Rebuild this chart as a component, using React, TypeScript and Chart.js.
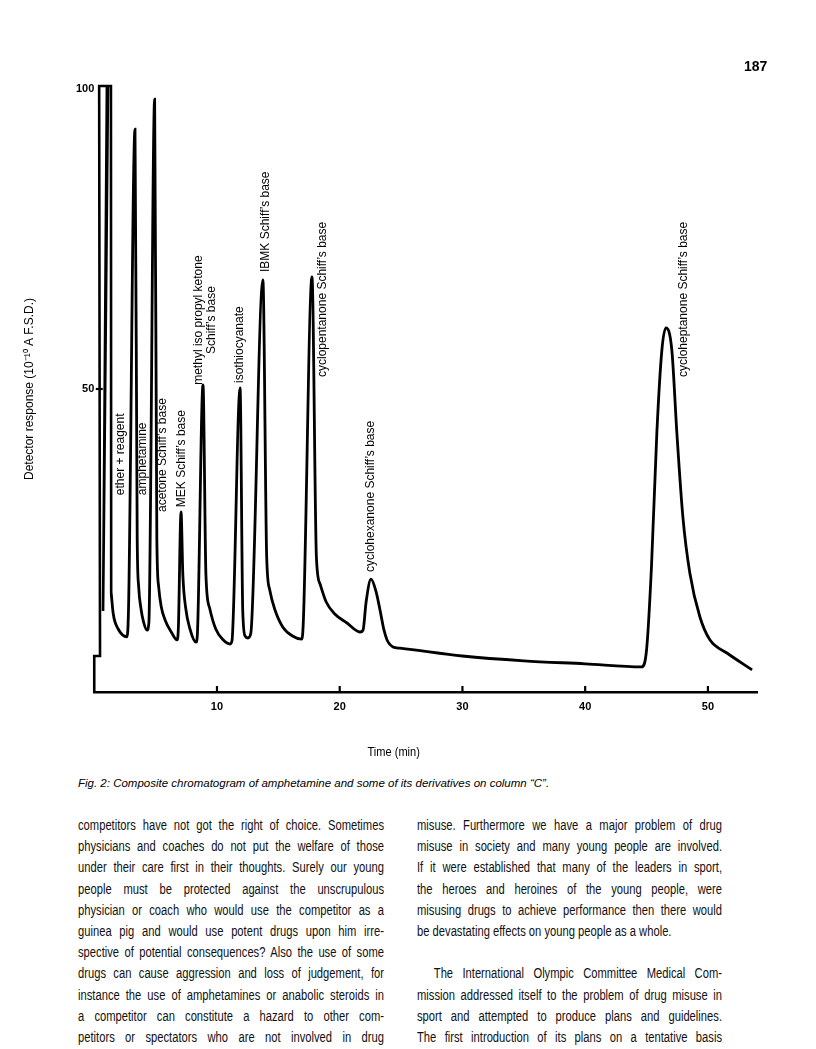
import React, { useEffect, useRef } from 'react';
import { Chart, registerables } from 'chart.js';

Chart.register(...registerables);

// ---- data (time in min, detector response) ----
// off-scale solvent / reagent front (pen pegged at full scale)
const solventTime = [0, 0, 0.47, 0.4, 1.03, 0.72, 1.12, 1.36, 1.38];
const solventResp = [-0.5, 5.5, 5.5, 100.5, 100.5, 13, 100.5, 100.5, 16];

const traceTime = [
  1.38, 1.55, 1.95, 2.67,
  2.8, 3.32, 3.5, 3.62, 3.8, 4.0, 4.3,
  4.45, 4.92, 5.1, 5.25, 5.45, 5.77, 6.33, 6.74,
  6.85, 7.07, 7.22, 7.45, 7.8, 8.29,
  8.4, 8.86, 9.1, 9.4, 9.9, 10.5, 11.06,
  11.22, 11.88, 12.1, 12.3, 12.52, 12.75,
  13.74, 14.05, 14.3, 14.72, 15.37, 16.19, 16.92,
  17.05, 17.74, 18.1, 18.4, 18.9, 19.6, 20.59, 21.65,
  21.9, 22.15, 22.55, 22.95, 23.28, 23.61, 23.85, 24.34, 24.91,
  30, 35, 40, 44.6,
  45.0, 45.4, 45.84, 46.25, 46.58, 47.06, 47.47, 47.96, 48.53, 49.35, 50.16, 51.55, 53.6,
];
const traceResp = [
  16, 12.5, 10, 8.7,
  14, 93.3, 25, 17, 13.5, 11.3, 9.8,
  11, 98.3, 25, 17, 13.8, 11.5, 9.3, 8.2,
  10, 29.5, 19, 13.5, 10, 7.8,
  9, 50.7, 19, 13.5, 10, 8.2, 7.5,
  8, 50.2, 13, 8.8, 8.5, 9.2,
  68.2, 22, 16.5, 13.2, 10.3, 8.8, 8.3,
  12, 68.7, 22, 17.5, 14.5, 12.5, 11.0, 9.5,
  9.8, 14.5, 18.3, 16.3, 13.2, 9.8, 8.2, 7.0, 6.8,
  5.5, 4.7, 4.2, 3.7,
  6.5, 20.3, 42.7, 56.5, 60.2, 56.5, 42.7, 28.7, 19.3, 12.0, 8.2, 6.0, 3.2,
];

const xTickValues = [10, 20, 30, 40, 50];
const yTickValues = [50, 100];

const peakNames = [
  ['ether + reagent'],
  ['amphetamine'],
  ["acetone Schiff\u2019s base"],
  ["MEK Schiff\u2019s base"],
  ['methyl iso propyl ketone', "Schiff\u2019s base"],
  ['isothiocyanate'],
  ["IBMK Schiff\u2019s base"],
  ["cyclopentanone Schiff\u2019s base"],
  ["cyclohexanone Schiff\u2019s base"],
  ["cycloheptanone Schiff\u2019s base"],
];
// label anchor (time, response at the foot of the rotated text)
const peakLabelTime = [2.16, 3.92, 5.58, 7.15, 9.06, 11.87, 14.0, 18.63, 22.52, 48.05];
const peakLabelResp = [32.3, 32.3, 29.5, 30.3, 50.7, 51.0, 69.5, 52.0, 19.5, 52.0];

const xTitle = 'Time (min)';
const yTitle = 'Detector response (10\u207B\u00B9\u2070 A F.S.D.)';

const leftColumn = [
  'competitors have not got the right of choice. Sometimes',
  'physicians and coaches do not put the welfare of those',
  'under their care first in their thoughts. Surely our young',
  'people must be protected against the unscrupulous',
  'physician or coach who would use the competitor as a',
  'guinea pig and would use potent drugs upon him irre-',
  'spective of potential consequences? Also the use of some',
  'drugs can cause aggression and loss of judgement, for',
  'instance the use of amphetamines or anabolic steroids in',
  'a competitor can constitute a hazard to other com-',
  'petitors or spectators who are not involved in drug',
];
const rightColumn = [
  'misuse. Furthermore we have a major problem of drug',
  'misuse in society and many young people are involved.',
  'If it were established that many of the leaders in sport,',
  'the heroes and heroines of the young people, were',
  'misusing drugs to achieve performance then there would',
  'be devastating effects on young people as a whole.',
  '',
  'The International Olympic Committee Medical Com-',
  'mission addressed itself to the problem of drug misuse in',
  'sport and attempted to produce plans and guidelines.',
  'The first introduction of its plans on a tentative basis',
];
const rightColumnPlain = [5];
const rightColumnIndent = [7];

const SANS = '"Liberation Sans", Arial, Helvetica, sans-serif';

const annotatePlugin = {
  id: 'annotate',
  afterDatasetsDraw(chart: any) {
    const { ctx, scales } = chart;
    const xs = scales.x;
    const ys = scales.y;
    ctx.save();
    ctx.strokeStyle = '#000';
    ctx.fillStyle = '#000';
    // x tick marks (upwards)
    ctx.lineWidth = 2.2;
    const axisY = ys.getPixelForValue(-0.5);
    xTickValues.forEach((v) => {
      const px = xs.getPixelForValue(v);
      ctx.beginPath();
      ctx.moveTo(px, axisY);
      ctx.lineTo(px, axisY - 6);
      ctx.stroke();
    });
    // y tick mark at 50
    const yAxisX = xs.getPixelForValue(0.45);
    ctx.beginPath();
    const py = ys.getPixelForValue(50);
    ctx.moveTo(yAxisX - 4, py);
    ctx.lineTo(yAxisX + 3, py);
    ctx.stroke();

    // peak labels
    ctx.font = `12px ${SANS}`;
    ctx.textBaseline = 'middle';
    ctx.textAlign = 'center';
    peakNames.forEach((lines, i) => {
      const px = xs.getPixelForValue(peakLabelTime[i]);
      const pyy = ys.getPixelForValue(peakLabelResp[i]);
      const w = Math.max(...lines.map((l) => ctx.measureText(l).width));
      ctx.save();
      ctx.translate(px, pyy);
      ctx.rotate(-Math.PI / 2);
      const lh = 13;
      lines.forEach((l, j) => {
        const off = (j - (lines.length - 1) / 2) * lh;
        ctx.fillText(l, w / 2, off);
      });
      ctx.restore();
    });

    // x title
    ctx.save();
    ctx.translate(xs.getPixelForValue(24.4), axisY + 60);
    ctx.scale(0.85, 1);
    ctx.font = `13px ${SANS}`;
    ctx.textAlign = 'center';
    ctx.fillText(xTitle, 0, 0);
    ctx.restore();
    ctx.restore();
  },
};

export default function App() {
  const ref = useRef<HTMLCanvasElement | null>(null);
  useEffect(() => {
    if (!ref.current) return;
    const chart = new Chart(ref.current, {
      type: 'line',
      data: {
        datasets: [
          {
            data: solventTime.map((t, i) => ({ x: t, y: solventResp[i] })),
            borderColor: '#000',
            borderWidth: 2.6,
            pointRadius: 0,
            tension: 0,
            fill: false,
            clip: false as any,
          },
          {
            data: traceTime.map((t, i) => ({ x: t, y: traceResp[i] })),
            borderColor: '#000',
            borderWidth: 2.8,
            pointRadius: 0,
            cubicInterpolationMode: 'monotone',
            fill: false,
            clip: false as any,
          },
        ],
      },
      options: {
        animation: false,
        responsive: false,
        maintainAspectRatio: false,
        layout: { padding: { left: 0, right: 59, top: 86, bottom: 0 } },
        plugins: { legend: { display: false }, tooltip: { enabled: false } },
        scales: {
          x: {
            type: 'linear',
            min: 0,
            max: 54,
            grid: { display: false, drawTicks: false },
            border: { display: true, color: '#000', width: 2.5 },
            afterBuildTicks: (s: any) => {
              s.ticks = xTickValues.map((v) => ({ value: v }));
            },
            afterFit: (s: any) => {
              s.height = 78;
            },
            ticks: {
              color: '#000',
              padding: 8,
              maxRotation: 0,
              autoSkip: false,
              font: { family: SANS, size: 11, weight: 'bold' },
            },
          },
          y: {
            type: 'linear',
            min: -0.5,
            max: 100.5,
            grid: { display: false, drawTicks: false },
            border: { display: false },
            afterBuildTicks: (s: any) => {
              s.ticks = yTickValues.map((v) => ({ value: v }));
            },
            afterFit: (s: any) => {
              s.width = 94.25;
            },
            ticks: {
              color: '#000',
              padding: 0,
              font: { family: SANS, size: 11, weight: 'bold' },
            },
            title: {
              display: true,
              text: yTitle,
              color: '#000',
              padding: { top: 22, bottom: 0 },
              font: { family: SANS, size: 12 },
            },
          },
        },
      },
      plugins: [annotatePlugin],
    } as any);
    return () => chart.destroy();
  }, []);

  const lineH = 21.2;
  const squeeze = 0.8;
  const colStyle = (left: number, width: number): React.CSSProperties => ({
    position: 'absolute',
    left,
    top: 815,
    width: width / squeeze,
    transform: `scaleX(${squeeze})`,
    transformOrigin: 'left top',
    fontFamily: SANS,
    fontSize: 14,
    lineHeight: `${lineH}px`,
    color: '#111',
  });

  return (
    <div style={{ position: 'absolute', left: 0, top: 0, width: 816, height: 1049, background: '#fff', overflow: 'hidden' }}>
      <canvas ref={ref} width={816} height={770} style={{ position: 'absolute', left: 0, top: 0, width: 816, height: 770 }} />
      <div style={{ position: 'absolute', left: 744, top: 58, fontFamily: SANS, fontWeight: 'bold', fontSize: 14, color: '#000' }}>187</div>
      <div style={{ position: 'absolute', left: 78, top: 777, fontFamily: SANS, fontStyle: 'italic', fontSize: 11.5, color: '#000', whiteSpace: 'nowrap' }}>
        Fig. 2: Composite chromatogram of amphetamine and some of its derivatives on column {'\u201CC\u201D'}.
      </div>
      <div style={colStyle(78, 306)}>
        {leftColumn.map((l, i) => (
          <div key={i} style={{ height: lineH, textAlign: 'justify', textAlignLast: 'justify' } as any}>{l}</div>
        ))}
      </div>
      <div style={colStyle(417, 305)}>
        {rightColumn.map((l, i) => (
          <div
            key={i}
            style={{
              height: lineH,
              textAlign: rightColumnPlain.includes(i) ? 'left' : 'justify',
              textAlignLast: rightColumnPlain.includes(i) ? 'left' : 'justify',
              paddingLeft: rightColumnIndent.includes(i) ? 21 : 0,
            } as any}
          >
            {l}
          </div>
        ))}
      </div>
    </div>
  );
}
